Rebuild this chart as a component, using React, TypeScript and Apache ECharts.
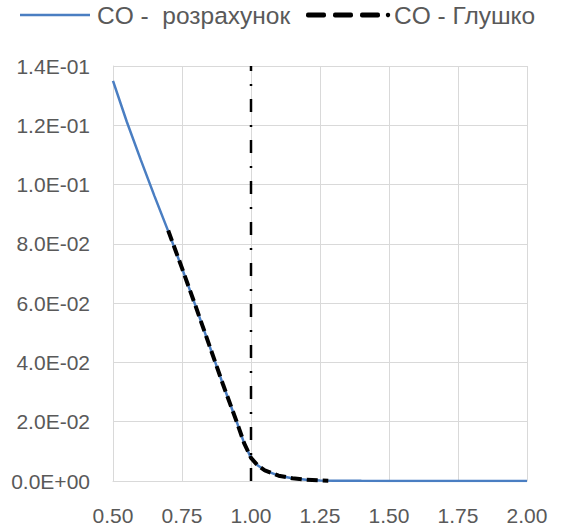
import React, { useEffect, useRef } from "react";
import * as echarts from "echarts";

const xCalc = [0.5, 0.55, 0.6, 0.65, 0.7, 0.75, 0.8, 0.85, 0.9, 0.95, 0.975, 1.0, 1.025, 1.05, 1.1, 1.15, 1.2, 1.25, 1.3, 1.4, 1.5, 1.6, 1.7, 1.8, 1.9, 2.0];
const yCalc = [0.135, 0.1212, 0.1085, 0.0962, 0.0843, 0.0718, 0.0588, 0.0455, 0.0322, 0.0195, 0.0128, 0.0078, 0.0052, 0.0036, 0.0018, 0.0009, 0.0004, 0.0002, 0.0001, 0.00005, 0.00002, 0.00001, 0, 0, 0, 0];

const xGlushko = [0.7, 0.75, 0.8, 0.85, 0.9, 0.95, 0.975, 1.0, 1.025, 1.05, 1.1, 1.15, 1.2, 1.25, 1.28];
const yGlushko = [0.0845, 0.0718, 0.0588, 0.0455, 0.0322, 0.0195, 0.0128, 0.0078, 0.0052, 0.0036, 0.0018, 0.0009, 0.0004, 0.0002, 0.0001];

const xRef = [1.0, 1.0];
const yRef = [0, 0.14];

const seriesNames = ["CO -  розрахунок", "CO - Глушко"];

const FONT = "'Liberation Sans', Arial, sans-serif";
const GREY = "#595959";

function sci(v: number): string {
  const [m, e] = v.toExponential(1).split("e");
  const sign = e[0] === "-" ? "-" : "+";
  const digits = e.replace(/^[+-]/, "").padStart(2, "0");
  return `${m}E${sign}${digits}`;
}

export default function App() {
  const ref = useRef<HTMLDivElement>(null);
  useEffect(() => {
    if (!ref.current) return;
    const chart = echarts.init(ref.current, undefined, { renderer: "svg" });
    const zip = (xs: number[], ys: number[]) => xs.map((x, i) => [x, ys[i]]);
    chart.setOption({
      animation: false,
      backgroundColor: "#ffffff",
      textStyle: { fontFamily: FONT },
      grid: { left: 113, right: 34, top: 66, bottom: 47 },
      xAxis: {
        type: "value",
        min: 0.5,
        max: 2.0,
        interval: 0.25,
        axisLine: { show: true, lineStyle: { color: "#d9d9d9", width: 1 } },
        axisTick: { show: false },
        splitLine: { show: true, lineStyle: { color: "#d9d9d9", width: 1 } },
        axisLabel: {
          formatter: (v: number) => v.toFixed(2),
          color: GREY,
          fontSize: 21,
          fontFamily: FONT,
          margin: 24,
        },
      },
      yAxis: {
        type: "value",
        min: 0,
        max: 0.14,
        interval: 0.02,
        axisLine: { show: true, lineStyle: { color: "#d9d9d9", width: 1 } },
        axisTick: { show: false },
        splitLine: { show: true, lineStyle: { color: "#d9d9d9", width: 1 } },
        axisLabel: {
          formatter: (v: number) => sci(v),
          color: GREY,
          fontSize: 21,
          fontFamily: FONT,
          margin: 23,
        },
      },
      series: [
        {
          name: seriesNames[0],
          type: "line",
          data: zip(xCalc, yCalc),
          showSymbol: false,
          symbol: "none",
          lineStyle: { color: "#4a7ec2", width: 2.5 },
          z: 2,
        },
        {
          name: "ref",
          type: "line",
          data: zip(xRef, yRef),
          showSymbol: false,
          symbol: "none",
          lineStyle: { color: "#000000", width: 2.5, type: [13, 13, 2, 13] },
          z: 3,
        },
        {
          name: seriesNames[1],
          type: "line",
          data: zip(xGlushko, yGlushko),
          showSymbol: false,
          symbol: "none",
          lineStyle: { color: "#000000", width: 4, type: [11, 5] },
          z: 4,
        },
      ],
      graphic: [
        {
          type: "line",
          shape: { x1: 20, y1: 15, x2: 90, y2: 15 },
          style: { stroke: "#4a7ec2", lineWidth: 2.5 },
        },
        {
          type: "text",
          x: 97,
          y: 15,
          style: {
            text: seriesNames[0],
            fill: GREY,
            font: `24.5px ${FONT}`,
            textVerticalAlign: "middle",
            verticalAlign: "middle",
          },
        },
        { type: "rect", shape: { x: 306, y: 12.5, width: 20, height: 5, r: 2 }, style: { fill: "#000" } },
        { type: "rect", shape: { x: 333, y: 12.5, width: 20, height: 5, r: 2 }, style: { fill: "#000" } },
        { type: "rect", shape: { x: 360, y: 12.5, width: 20, height: 5, r: 2 }, style: { fill: "#000" } },
        { type: "circle", shape: { cx: 388, cy: 15, r: 2.2 }, style: { fill: "#000" } },
        {
          type: "text",
          x: 394,
          y: 15,
          style: {
            text: seriesNames[1],
            fill: GREY,
            font: `24.5px ${FONT}`,
            textVerticalAlign: "middle",
            verticalAlign: "middle",
          },
        },
      ],
    });
    return () => chart.dispose();
  }, []);
  return <div ref={ref} style={{ position: "absolute", left: 0, top: 0, width: 561, height: 528 }} />;
}
